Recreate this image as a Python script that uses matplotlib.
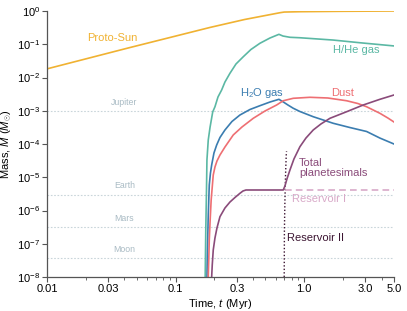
import matplotlib
matplotlib.use("Agg")
import matplotlib.pyplot as plt
from matplotlib.ticker import FixedLocator, LogLocator, NullFormatter, NullLocator

plt.rcParams['font.family'] = ['Liberation Sans', 'DejaVu Sans']
plt.rcParams['mathtext.fontset'] = 'custom'
plt.rcParams['mathtext.rm'] = 'Liberation Sans'
plt.rcParams['mathtext.it'] = 'Liberation Sans:italic'
plt.rcParams['mathtext.default'] = 'regular'

## Data (time in Myr, mass in solar masses) ##
sun_t = [0.01, 0.0432, 0.185, 0.344, 0.649, 0.70, 0.93, 2.0, 5.0]
sun_m = [0.0182, 0.078, 0.32, 0.555, 0.889, 0.93, 0.953, 0.98, 1.0]

hhe_t = [0.170, 0.1718, 0.174, 0.1754, 0.1796, 0.1855, 0.1945, 0.2025, 0.2138, 0.2282, 0.2421,
         0.2649, 0.2951, 0.336, 0.3856, 0.4531, 0.542, 0.637, 0.684, 0.776, 0.927, 1.675, 2.72, 5.0]
hhe_m = [1e-8, 2.6e-7, 4.1e-6, 3.3e-5, 1.32e-4, 3.2e-4, 9.2e-4, 1.32e-3, 2.6e-3, 4.2e-3, 7.3e-3,
         1.34e-2, 2.55e-2, 4.2e-2, 6.95e-2, 0.107, 0.154, 0.199, 0.177, 0.162, 0.157, 0.134, 0.111, 0.089]

h2o_t = [0.1754, 0.177, 0.1796, 0.1829, 0.1868, 0.1909, 0.1989, 0.2088, 0.2215, 0.2422, 0.2745,
         0.3167, 0.3788, 0.4532, 0.5421, 0.6368, 0.6842, 0.7482, 0.8228, 0.9276, 1.177, 1.684,
         2.271, 3.062, 3.886, 5.0]
h2o_m = [1e-8, 6.5e-8, 7.3e-7, 5.85e-6, 1.34e-5, 2.33e-5, 5.36e-5, 9.33e-5, 1.57e-4, 2.64e-4, 4.75e-4,
         7.45e-4, 1.09e-3, 1.42e-3, 1.83e-3, 2.21e-3, 1.87e-3, 1.49e-3, 1.19e-3, 9.49e-4, 6.62e-4, 4.2e-4,
         3.13e-4, 2.38e-4, 1.51e-4, 1.0e-4]

dust_t = [0.1796, 0.1812, 0.1829, 0.1858, 0.1892, 0.1929, 0.1964, 0.2025, 0.2099, 0.2215, 0.2422,
          0.281, 0.3283, 0.4021, 0.4957, 0.6112, 0.688, 0.8228, 1.1093, 1.531, 2.141, 2.62, 3.062,
          3.886, 4.483, 5.0]
dust_m = [1e-8, 3.24e-8, 1.3e-7, 5.18e-7, 2.07e-6, 5.09e-6, 1.17e-5, 2.03e-5, 3.08e-5, 4.67e-5, 8.13e-5,
          1.87e-4, 3.24e-4, 5.93e-4, 9.82e-4, 1.49e-3, 2.0e-3, 2.37e-3, 2.54e-3, 2.42e-3, 2.0e-3, 1.65e-3,
          1.32e-3, 8.38e-4, 6.05e-4, 4.59e-4]

plan_t = [0.1909, 0.1929, 0.1964, 0.2025, 0.2099, 0.2215, 0.2422, 0.2649, 0.2897, 0.3167, 0.3343,
          0.3528, 0.688, 0.7092, 0.735, 0.7757, 0.8332, 0.9276, 1.033, 1.177, 1.351, 1.588, 2.141,
          2.881, 3.886, 5.0]
plan_m = [1e-8, 2.3e-8, 6.49e-8, 1.49e-7, 2.98e-7, 6.52e-7, 1.19e-6, 1.8e-6, 2.46e-6, 3.29e-6, 3.86e-6,
          4.14e-6, 4.14e-6, 5.46e-6, 8.86e-6, 1.65e-5, 3.54e-5, 8.29e-5, 1.51e-4, 2.64e-4, 4.0e-4, 5.93e-4,
          9.36e-4, 1.49e-3, 2.21e-3, 2.98e-3]

res1_t = [0.71, 5.0]
res1_m = [4.14e-6, 4.14e-6]

res2_t = [0.700, 0.7026, 0.7092, 0.7169, 0.7259, 0.73]
res2_m = [1e-8, 2.59e-7, 2.07e-6, 1.17e-5, 4.67e-5, 6.0e-5]

# reference bodies
body_names = ["Jupiter", "Earth", "Mars", "Moon"]
body_mass = [9.55e-4, 3.0e-6, 3.2e-7, 3.7e-8]

xtick_vals = [0.01, 0.03, 0.1, 0.3, 1.0, 3.0, 5.0]
xtick_labels = ["0.01", "0.03", "0.1", "0.3", "1.0", "3.0", "5.0"]

c_sun = "#F0B232"
c_hhe = "#5BB8A4"
c_h2o = "#3B7DB0"
c_dust = "#EE6F73"
c_plan = "#8A4B7A"
c_res1 = "#D8A9C8"
c_res2 = "#3C1532"
c_body = "#A9BBC4"

## Plot ##
fig = plt.figure(figsize=(4.07, 3.11), dpi=100)
ax = fig.add_axes([0.1155, 0.1093, 0.8525, 0.8553])

for name, m in zip(body_names, body_mass):
    ax.axhline(m, color="#C9D5DA", lw=0.8, ls=(0, (1.5, 1.5)), zorder=1)
    ax.text(0.04, m * 1.35, name, color=c_body, fontsize=6.3, ha="center", va="bottom")

lw = 1.2
ax.plot(sun_t, sun_m, color=c_sun, lw=lw)
ax.plot(hhe_t, hhe_m, color=c_hhe, lw=lw)
ax.plot(h2o_t, h2o_m, color=c_h2o, lw=lw)
ax.plot(dust_t, dust_m, color=c_dust, lw=lw)
ax.plot(res2_t, res2_m, color=c_res2, lw=1.0, ls=(0, (1, 1.5)))
ax.plot(res1_t, res1_m, color=c_res1, lw=lw, ls=(0, (4, 2.5)))
ax.plot(plan_t, plan_m, color=c_plan, lw=lw)

fs = 8
ax.text(0.032, 0.15, "Proto-Sun", color=c_sun, fontsize=fs, ha="center", va="center")
ax.text(2.56, 0.067, "H/He gas", color=c_hhe, fontsize=fs, ha="center", va="center")
ax.text(0.47, 3.5e-3, r"H$_2$O gas", color=c_h2o, fontsize=fs, ha="center", va="center")
ax.text(2.0, 3.35e-3, "Dust", color=c_dust, fontsize=fs, ha="center", va="center")
ax.text(0.915, 1.9e-5, "Total\nplanetesimals", color=c_plan, fontsize=fs, ha="left", va="center",
        linespacing=0.95)
ax.text(0.80, 2.2e-6, "Reservoir I", color=c_res1, fontsize=fs, ha="left", va="center")
ax.text(0.74, 1.5e-7, "Reservoir II", color=c_res2, fontsize=fs, ha="left", va="center")

ax.set_xscale("log")
ax.set_yscale("log")
ax.set_xlim(0.01, 5.0)
ax.set_ylim(1e-8, 1.0)

ax.xaxis.set_major_locator(FixedLocator(xtick_vals))
ax.set_xticklabels(xtick_labels)
ax.xaxis.set_minor_locator(LogLocator(base=10, subs=range(2, 10)))
ax.xaxis.set_minor_formatter(NullFormatter())
ax.yaxis.set_major_locator(LogLocator(base=10, numticks=20))
ax.yaxis.set_minor_locator(NullLocator())

for s in ["top", "right"]:
    ax.spines[s].set_visible(False)
for s in ["left", "bottom"]:
    ax.spines[s].set_color("#555555")
    ax.spines[s].set_linewidth(0.9)
ax.tick_params(which="major", length=3.5, width=0.8, color="#555555", labelsize=fs, pad=1.5)
ax.tick_params(which="minor", length=2, width=0.6, color="#555555")

ax.set_xlabel(r"Time, $\it{t}$ (Myr)", fontsize=fs, labelpad=2)
ax.set_ylabel(r"Mass, $\it{M}$ ($\it{M}_{\odot}$)", fontsize=fs, labelpad=2)

fig.savefig("out.png", dpi=100)
